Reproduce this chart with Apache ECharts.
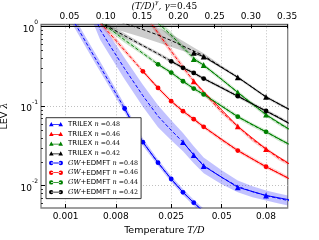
<!DOCTYPE html>
<html><head><meta charset="utf-8">
<script src="https://cdn.jsdelivr.net/npm/echarts@6/dist/echarts.min.js"></script>
<style>html,body{margin:0;padding:0;background:#fff}#c{width:319px;height:240px}</style>
</head><body><div id="c"></div>
<script>
const GAMMA = 0.45;
const X_MIN = 0.0106, X_MAX = 0.3508;   // in (T/D)^gamma
const Y_MIN = 0.00524, Y_MAX = 1.072;

const bottomTickT = [0.001, 0.008, 0.025, 0.05, 0.08];
const bottomTickLabels = ['0.001', '0.008', '0.025', '0.05', '0.08'];
const topTicks = [0.05, 0.10, 0.15, 0.20, 0.25, 0.30, 0.35];
const yTicks = [0.01, 0.1, 1];
const yMinorTicks = [0.006,0.007,0.008,0.009,0.02,0.03,0.04,0.05,0.06,0.07,0.08,0.09,0.2,0.3,0.4,0.5,0.6,0.7,0.8,0.9];

// ---- data points ----
const trT_048 = [0.03,0.035,0.04,0.06,0.08,0.1];
const trL_048 = [0.0353,0.0243,0.0177,0.00955,0.00753,0.0066];
const trT_046 = [0.035,0.06,0.08,0.1];
const trL_046 = [0.206,0.0556,0.0289,0.0184];
const trT_044 = [0.035,0.04,0.06,0.08,0.1];
const trL_044 = [0.392,0.33,0.149,0.0782,0.050];
const trT_042 = [0.035,0.04,0.06,0.08,0.1];
const trL_042 = [0.469,0.42,0.231,0.1308,0.0891];
const gwT_048 = [0.01,0.015,0.02,0.025,0.03,0.035,0.04];
const gwL_048 = [0.0936,0.0353,0.01946,0.01213,0.00826,0.00612,0.0047];
const gwT_046 = [0.015,0.02,0.025,0.03,0.035,0.04,0.06,0.08,0.1];
const gwL_046 = [0.2748,0.1697,0.1155,0.0866,0.0687,0.055,0.02766,0.0173,0.012];
const gwT_044 = [0.02,0.025,0.03,0.035,0.04,0.06,0.08,0.1];
const gwL_044 = [0.3365,0.265,0.206,0.1667,0.1406,0.0738,0.0476,0.0324];
const gwT_042 = [0.025,0.03,0.035,0.04,0.06,0.08,0.1];
const gwL_042 = [0.367,0.304,0.262,0.2226,0.1335,0.087,0.0594];

// ---- fits (centre, lower, upper) ----
const fGwT_048 = [0.0015,0.002,0.003,0.004,0.005,0.007,0.01,0.015,0.02,0.025,0.03,0.035,0.04];
const fGwM_048 = [1.254,0.966,0.621,0.431,0.315,0.1835,0.0936,0.0353,0.0195,0.0121,0.0083,0.0061,0.0047];
const fGwLo_048 = [1.085,0.836,0.537,0.373,0.2725,0.1611,0.0833,0.0319,0.01787,0.01109,0.00761,0.00559,0.00431];
const fGwHi_048 = [1.450,1.117,0.718,0.498,0.364,0.209,0.1051,0.0391,0.0213,0.0132,0.00906,0.00666,0.00513];

const fTrT_048 = [0.004,0.005,0.007,0.01,0.015,0.02,0.025,0.03,0.035,0.04,0.05,0.06,0.07,0.08,0.09,0.1];
const fTrM_048 = [1.44,0.919,0.550,0.297,0.1356,0.0748,0.0498,0.0353,0.0245,0.0180,0.0127,0.0098,0.0084,0.0075,0.0069,0.0064];
const fTrLo_048 = [1.077,0.687,0.411,0.219,0.0985,0.0544,0.0372,0.0272,0.0191,0.0143,0.0104,0.00824,0.00716,0.00649,0.00597,0.00554];
const fTrHi_048 = [1.925,1.229,0.735,0.403,0.1866,0.1029,0.0666,0.0459,0.0314,0.0227,0.0156,0.01166,0.00985,0.00867,0.00798,0.0074];

const fGwT_046 = [0.005,0.007,0.01,0.012,0.015,0.02,0.025,0.03,0.035,0.04,0.05,0.06,0.07,0.08,0.09,0.1];
const fGwM_046 = [1.12,0.786,0.503,0.389,0.2748,0.1697,0.1155,0.0866,0.0687,0.055,0.0378,0.0277,0.0216,0.0173,0.0144,0.012];
const fGwLo_046 = [1.027,0.720,0.466,0.364,0.2592,0.1601,0.1090,0.0817,0.0648,0.0519,0.0357,0.0261,0.0204,0.0163,0.01358,0.01132];
const fGwHi_046 = [1.222,0.858,0.543,0.416,0.2913,0.1799,0.1224,0.0918,0.0728,0.0583,0.0401,0.0294,0.0229,0.0183,0.01526,0.01272];

const fTrT_046 = [0.015,0.02,0.025,0.03,0.035,0.04,0.05,0.06,0.07,0.08,0.09,0.1];
const fTrM_046 = [1.54,0.835,0.492,0.310,0.206,0.148,0.0847,0.0556,0.0380,0.0289,0.0222,0.0184];
const fTrLo_046 = [1.413,0.766,0.451,0.284,0.1943,0.1396,0.0799,0.0525,0.0358,0.0273,0.0209,0.01736];
const fTrHi_046 = [1.679,0.910,0.536,0.338,0.2184,0.1569,0.0898,0.0589,0.0403,0.0306,0.0235,0.0195];

const fGwT_044 = [0.005,0.007,0.01,0.015,0.02,0.025,0.03,0.035,0.04,0.05,0.06,0.07,0.08,0.09,0.1];
const fGwM_044 = [1.16,0.914,0.682,0.462,0.3365,0.265,0.206,0.1667,0.1406,0.1003,0.0738,0.0581,0.0476,0.0388,0.0324];
const fGwLo_044 = [1.064,0.839,0.626,0.436,0.3175,0.250,0.1943,0.1573,0.1326,0.0946,0.0696,0.0548,0.0449,0.0366,0.0306];
const fGwHi_044 = [1.264,0.996,0.743,0.490,0.3567,0.2809,0.2184,0.1767,0.149,0.1063,0.0782,0.0616,0.0505,0.0411,0.0343];

const fTrT_044 = [0.02,0.025,0.03,0.035,0.04,0.05,0.06,0.07,0.08,0.09,0.1];
const fTrM_044 = [1.11,0.786,0.547,0.40,0.325,0.218,0.149,0.1061,0.0782,0.0609,0.050];
const fTrLo_044 = [1.003,0.721,0.509,0.377,0.3066,0.2057,0.1406,0.1001,0.0738,0.0575,0.0472];
const fTrHi_044 = [1.229,0.857,0.588,0.424,0.3445,0.2311,0.1579,0.1125,0.0829,0.0646,0.053];

const fGwT_042 = [0.005,0.007,0.01,0.015,0.02,0.025,0.03,0.035,0.04,0.05,0.06,0.07,0.08,0.09,0.1];
const fGwM_042 = [1.133,0.955,0.770,0.578,0.457,0.367,0.304,0.262,0.2226,0.171,0.1335,0.107,0.087,0.0724,0.0594];
const fGwLo_042 = [1.054,0.888,0.716,0.550,0.435,0.3495,0.2895,0.2495,0.212,0.1629,0.1271,0.1019,0.0829,0.069,0.0566];
const fGwHi_042 = [1.218,1.027,0.828,0.607,0.480,0.3854,0.3192,0.2751,0.2337,0.1796,0.1402,0.1124,0.0914,0.076,0.0624];

const fTrT_042 = [0.005,0.007,0.01,0.015,0.02,0.025,0.03,0.035,0.04,0.05,0.06,0.07,0.08,0.09,0.1];
const fTrM_042 = [1.388,1.25,1.097,0.922,0.786,0.670,0.571,0.494,0.433,0.310,0.231,0.172,0.1308,0.107,0.0891];
const fTrLo_042 = [1.069,0.962,0.857,0.731,0.632,0.555,0.494,0.446,0.403,0.2967,0.221,0.1646,0.1252,0.1024,0.0853];
const fTrHi_042 = [1.80,1.62,1.404,1.163,0.977,0.809,0.660,0.547,0.465,0.324,0.2414,0.1797,0.1367,0.1118,0.0931];

const COLORS = {'0.48':'#0000ff','0.46':'#ff0000','0.44':'#008000','0.42':'#000000'};
const BANDS = {'0.48':'rgba(0,0,255,0.24)','0.46':'rgba(255,0,0,0.2)','0.44':'rgba(0,128,0,0.2)','0.42':'rgba(0,0,0,0.2)'};

const dataSets = [
  {name:'TRILEX n=0.48', n:'0.48', sym:'triangle', T:trT_048, L:trL_048},
  {name:'TRILEX n=0.46', n:'0.46', sym:'triangle', T:trT_046, L:trL_046},
  {name:'TRILEX n=0.44', n:'0.44', sym:'triangle', T:trT_044, L:trL_044},
  {name:'TRILEX n=0.42', n:'0.42', sym:'triangle', T:trT_042, L:trL_042},
  {name:'GW+EDMFT n=0.48', n:'0.48', sym:'circle', T:gwT_048, L:gwL_048},
  {name:'GW+EDMFT n=0.46', n:'0.46', sym:'circle', T:gwT_046, L:gwL_046},
  {name:'GW+EDMFT n=0.44', n:'0.44', sym:'circle', T:gwT_044, L:gwL_044},
  {name:'GW+EDMFT n=0.42', n:'0.42', sym:'circle', T:gwT_042, L:gwL_042}
];
const fitSets = [
  {n:'0.48', T:fGwT_048, M:fGwM_048, lo:fGwLo_048, hi:fGwHi_048},
  {n:'0.48', T:fTrT_048, M:fTrM_048, lo:fTrLo_048, hi:fTrHi_048},
  {n:'0.46', T:fGwT_046, M:fGwM_046, lo:fGwLo_046, hi:fGwHi_046},
  {n:'0.46', T:fTrT_046, M:fTrM_046, lo:fTrLo_046, hi:fTrHi_046},
  {n:'0.44', T:fGwT_044, M:fGwM_044, lo:fGwLo_044, hi:fGwHi_044},
  {n:'0.44', T:fTrT_044, M:fTrM_044, lo:fTrLo_044, hi:fTrHi_044},
  {n:'0.42', T:fGwT_042, M:fGwM_042, lo:fGwLo_042, hi:fGwHi_042},
  {n:'0.42', T:fTrT_042, M:fTrM_042, lo:fTrLo_042, hi:fTrHi_042}
];

const U = t => Math.pow(t, GAMMA);
const pairs = (T, L) => T.map((t, i) => [U(t), L[i]]);

const series = [];
fitSets.forEach(f => {
  const lower = pairs(f.T, f.lo), upper = pairs(f.T, f.hi);
  series.push({
    type:'custom', silent:true, z:1, xAxisIndex:0, yAxisIndex:0,
    data:[[U(f.T[0]), f.M[0]]], encode:{x:0, y:1},
    renderItem: function (params, api) {
      const cs = params.coordSys;
      const pts = lower.map(d => api.coord(d)).concat(upper.slice().reverse().map(d => api.coord(d)));
      return {type:'polygon', shape:{points:pts}, style:{fill:BANDS[f.n]},
        clipPath:{type:'rect', shape:{x:cs.x, y:cs.y, width:cs.width, height:cs.height}}};
    }
  });
  series.push({
    type:'line', silent:true, z:2, showSymbol:false, symbol:'none', clip:true,
    data: pairs(f.T, f.M),
    lineStyle:{color:COLORS[f.n], width:1, type:[3.5,2]}
  });
});
const TRI_ICON = 'path://M0,4.6L2.3,0.4L4.6,4.6Z M9.4,4.6L11.7,0.4L14,4.6Z M2,2.6H12V3.4H2Z';
const CIR_ICON = 'path://M0,2.5A2.2,2.2,0,1,0,4.4,2.5A2.2,2.2,0,1,0,0,2.5Z M9.6,2.5A2.2,2.2,0,1,0,14,2.5A2.2,2.2,0,1,0,9.6,2.5Z M2,2.1H12V2.9H2Z';
dataSets.forEach((d, k) => {
  const s = {
    name:d.name, type:'line', z:3, clip:true, silent:true,
    data: pairs(d.T, d.L),
    symbol:d.sym, symbolSize: d.sym === 'circle' ? 4.8 : 5.8, showSymbol:true,
    itemStyle:{color:COLORS[d.n]},
    lineStyle:{color:COLORS[d.n], width:1}
  };
  if (k === 0) {
    s.markLine = {silent:true, symbol:'none', label:{show:false},
      lineStyle:{color:'#000', width:1, type:'solid'}, data:[{yAxis:1}]};
    s.markArea = {silent:true, itemStyle:{color:'rgba(0,0,0,0.22)'},
      data:[[{yAxis:1}, {yAxis:Y_MAX}]]};
  }
  series.push(s);
});

const chart = echarts.init(document.getElementById('c'), null, {renderer:'canvas'});
const SANS = 'DejaVu Sans';
const SERIF = 'DejaVu Serif';
chart.setOption({
  animation:false,
  backgroundColor:'#fff',
  grid:{left:41, right:31.3, top:24.3, bottom:32, show:true, borderColor:'#808080', borderWidth:1.3,
        containLabel:false, outerBoundsMode:'none', backgroundColor:'transparent'},
  legend:{
    orient:'vertical', left:46, top:117.7, padding:[3,3,3,3],
    itemWidth:14, itemHeight:5, itemGap:2.7, itemTextGap:5,
    backgroundColor:'#fff', borderColor:'#333', borderWidth:1, borderRadius:0,
    itemStyle:{borderWidth:0},
    data: dataSets.map(d => ({name:d.name, icon: d.sym === 'circle' ? CIR_ICON : TRI_ICON})),
    selectedMode:false,
    formatter: function (name) {
      const parts = name.split(' n=');
      const head = parts[0] === 'TRILEX' ? 'TRILEX ' : '{g|GW}+EDMFT ';
      return head + '{n|n}{v| =' + parts[1] + '}';
    },
    textStyle:{fontFamily:SANS, fontSize:7, color:'#000', lineHeight:7,
      rich:{g:{fontFamily:SERIF, fontStyle:'italic', fontSize:6.8, lineHeight:7},
            n:{fontFamily:SERIF, fontStyle:'italic', fontSize:6.6, lineHeight:7},
            v:{fontFamily:SERIF, fontSize:6.3, lineHeight:7}}}
  },
  xAxis:[
    {type:'value', position:'bottom', min:X_MIN, max:X_MAX,
     axisLine:{show:false},
     axisTick:{show:true, inside:true, length:4, customValues: bottomTickT.map(U), lineStyle:{color:'#000', width:1}},
     axisLabel:{show:true, customValues: bottomTickT.map(U), margin:4, fontFamily:SANS, fontSize:9, color:'#000',
       formatter: function (v) {
         let best = 0;
         bottomTickT.forEach((t, i) => { if (Math.abs(U(t) - v) < Math.abs(U(bottomTickT[best]) - v)) best = i; });
         return bottomTickLabels[best];
       }},
     splitLine:{show:true, lineStyle:{color:'#c0c0c0', width:1, type:[1,2]}},
     name:'Temperature {i|T/D}', nameLocation:'middle', nameGap:14,
     nameTextStyle:{fontFamily:SANS, fontSize:9.5, color:'#000',
       rich:{i:{fontFamily:SERIF, fontStyle:'italic', fontSize:9.5}}}
    },
    {type:'value', position:'top', min:X_MIN, max:X_MAX,
     axisLine:{show:false},
     axisTick:{show:true, inside:true, length:4, customValues: topTicks, lineStyle:{color:'#000', width:1}},
     axisLabel:{show:true, customValues: topTicks, margin:3, fontFamily:SANS, fontSize:9, color:'#000',
       formatter: v => v.toFixed(2)},
     splitLine:{show:false},
     name:'{a|(T/D)}{s|γ}{a|, γ}{b|=0.45}', nameLocation:'middle', nameGap:13, nameMoveOverlap:false,
     nameTextStyle:{fontFamily:SERIF, fontSize:9, color:'#000',
       rich:{a:{fontFamily:SERIF, fontStyle:'italic', fontSize:9, lineHeight:12, verticalAlign:'bottom'},
             b:{fontFamily:SERIF, fontSize:9, lineHeight:12, verticalAlign:'bottom'},
             s:{fontFamily:SERIF, fontStyle:'italic', fontSize:6, lineHeight:6, verticalAlign:'top'}}}
    }
  ],
  yAxis:[
    {type:'log', logBase:10, min:Y_MIN, max:Y_MAX, position:'left',
     axisLine:{show:false},
     axisTick:{show:true, inside:true, length:4, customValues:yTicks, lineStyle:{color:'#000', width:1}},
     axisLabel:{show:true, customValues:yTicks, margin:3, color:'#000',
       formatter: function (v) { return '{b|10}{s|' + Math.round(Math.log10(v)) + '}'; },
       rich:{b:{fontFamily:SANS, fontSize:9, lineHeight:14, verticalAlign:'bottom'},
             s:{fontFamily:SANS, fontSize:6, lineHeight:7, verticalAlign:'top'}}},
     splitLine:{show:true, lineStyle:{color:'#c0c0c0', width:1, type:[1,2]}},
     name:'LEV {i|λ}', nameLocation:'middle', nameRotate:90, nameGap:25,
     nameTextStyle:{fontFamily:SANS, fontSize:9.5, color:'#000',
       rich:{i:{fontFamily:SERIF, fontStyle:'italic', fontSize:9.5}}}
    },
    {type:'log', logBase:10, min:Y_MIN, max:Y_MAX, position:'left', offset:0,
     axisLine:{show:false},
     axisTick:{show:true, inside:true, length:2, customValues:yMinorTicks, lineStyle:{color:'#000', width:0.8}},
     axisLabel:{show:false}, splitLine:{show:false}
    }
  ],
  series: series
});
</script></body></html>
